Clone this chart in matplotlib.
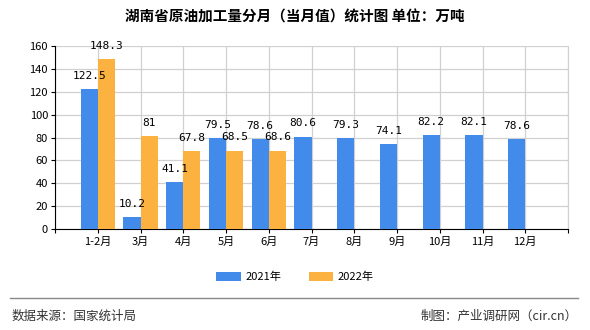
import matplotlib.pyplot as plt
import numpy as np

plt.rcParams['font.family'] = ['Noto Sans CJK SC', 'DejaVu Sans']

months = ['1-2月', '3月', '4月', '5月', '6月', '7月', '8月', '9月', '10月', '11月', '12月']
v2021 = [122.5, 10.2, 41.1, 79.5, 78.6, 80.6, 79.3, 74.1, 82.2, 82.1, 78.6]
v2022 = [148.3, 81, 67.8, 68.5, 68.6]
v2022_labels = ['148.3', '81', '67.8', '68.5', '68.6']

blue = '#428bea'
orange = '#fbb240'
w = 0.4

fig = plt.figure(figsize=(5.9, 3.3), dpi=100)
ax = fig.add_axes([55/590, 1-229/330, (568-55)/590, (229-46)/330])

x = np.arange(1, len(months) + 1)
x2 = np.arange(1, len(v2022) + 1)
ax.bar(x - w/2, v2021, w, color=blue, zorder=3, label='2021年')
ax.bar(x2 + w/2, v2022, w, color=orange, zorder=3, label='2022年')

for xi, v in zip(x, v2021):
    ax.annotate(f'{v:g}', (xi - w/2, v), xytext=(0, 6), textcoords='offset points',
                ha='center', va='bottom', fontsize=8, family='DejaVu Sans Mono')
for xi, v, s in zip(x2, v2022, v2022_labels):
    ax.annotate(s, (xi + w/2, v), xytext=(0, 6), textcoords='offset points',
                ha='center', va='bottom', fontsize=8, family='DejaVu Sans Mono')

ax.set_xlim(0, 12)
ax.set_ylim(0, 160)
ax.set_xticks(np.arange(0, 13))
ax.set_xticklabels([''] + months + [''], fontsize=8)
ax.set_yticks(np.arange(0, 161, 20))
ax.tick_params(axis='y', labelsize=8, length=3, pad=2)
ax.tick_params(axis='x', length=3, pad=3)
ax.grid(True, color='#d0d0d0', linewidth=0.9, zorder=0)
ax.spines['top'].set_visible(False)
ax.spines['right'].set_color('#d0d0d0')
ax.spines['left'].set_color('black')
ax.spines['bottom'].set_color('black')

fig.text(0.5, 1 - 17/330, '湖南省原油加工量分月（当月值）统计图 单位：万吨',
         ha='center', va='center', fontsize=10.5, fontweight='bold')

fig.legend(loc='center', bbox_to_anchor=(0.5, 1 - 277/330), ncol=2, frameon=False,
           fontsize=8, handlelength=2.2, handleheight=0.8, columnspacing=2.5, handletextpad=0.4)

fig.add_artist(plt.Line2D([10/590, 578/590], [1 - 298/330, 1 - 298/330],
                          color='#888888', linewidth=1))
fig.text(12/590, 1 - 316/330, '数据来源：国家统计局', ha='left', va='center',
         fontsize=9, color='#333333')
fig.text(578/590, 1 - 316/330, '制图：产业调研网（cir.cn）', ha='right', va='center',
         fontsize=9, color='#333333')

fig.savefig('out.png', dpi=100)
